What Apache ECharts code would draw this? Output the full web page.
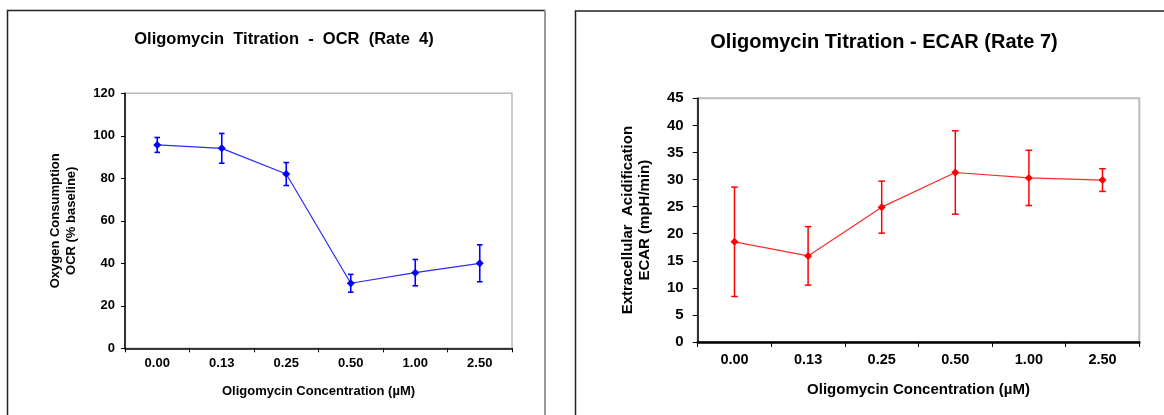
<!DOCTYPE html>
<html>
<head>
<meta charset="utf-8">
<script src="https://cdn.jsdelivr.net/npm/echarts@6/dist/echarts.min.js"></script>
<style>
html,body{margin:0;padding:0;background:#fff;}
#c{width:1164px;height:415px;}
</style>
</head>
<body>
<div id="c"></div>
<script>
const categories = ['0.00', '0.13', '0.25', '0.50', '1.00', '2.50'];
const ocrMean = [95.7, 94.1, 82.0, 30.6, 35.6, 40.0];
const ocrErr = [3.5, 7.0, 5.4, 4.2, 6.2, 8.7];
const ecarMean = [18.5, 15.9, 24.9, 31.3, 30.3, 29.9];
const ecarErr = [10.1, 5.4, 4.8, 7.7, 5.1, 2.1];
const ocrTicks = [0, 20, 40, 60, 80, 100, 120];
const ecarTicks = [0, 5, 10, 15, 20, 25, 30, 35, 40, 45];

const FONT = '"Liberation Sans", Arial, sans-serif';

function errData(mean, err) {
  return mean.map((m, i) => [i, m - err[i], m + err[i]]);
}
function errRender(color, cap, lw) {
  return function (params, api) {
    const i = api.value(0);
    const lo = api.coord([i, api.value(1)]);
    const hi = api.coord([i, api.value(2)]);
    const st = { stroke: color, lineWidth: lw };
    return {
      type: 'group',
      children: [
        { type: 'line', shape: { x1: hi[0], y1: hi[1], x2: lo[0], y2: lo[1] }, style: st },
        { type: 'line', shape: { x1: hi[0] - cap, y1: hi[1], x2: hi[0] + cap, y2: hi[1] }, style: st },
        { type: 'line', shape: { x1: lo[0] - cap, y1: lo[1], x2: lo[0] + cap, y2: lo[1] }, style: st }
      ]
    };
  };
}

const chart = echarts.init(document.getElementById('c'), null, { renderer: 'canvas' });
chart.setOption({
  backgroundColor: '#fff',
  animation: false,
  textStyle: { fontFamily: FONT },
  title: [
    { text: 'Oligomycin  Titration  -  OCR  (Rate  4)', left: 279, top: 26, textAlign: 'center',
      textStyle: { fontFamily: FONT, fontWeight: 'bold', fontSize: 16.5, color: '#000' } },
    { text: 'Oligomycin Titration - ECAR (Rate 7)', left: 879, top: 27, textAlign: 'center',
      textStyle: { fontFamily: FONT, fontWeight: 'bold', fontSize: 20, color: '#000' } }
  ],
  graphic: [
    { type: 'polyline', silent: true, shape: { points: [[7.5, 420], [7.5, 10.5], [545, 10.5]] }, style: { stroke: '#222', lineWidth: 1.5, fill: null } },
    { type: 'line', silent: true, shape: { x1: 545, y1: 10.5, x2: 545, y2: 420 }, style: { stroke: '#999', lineWidth: 2 } },
    { type: 'polyline', silent: true, shape: { points: [[575.5, 420], [575.5, 11], [1170, 11]] }, style: { stroke: '#222', lineWidth: 1.5, fill: null } }
  ],
  grid: [
    { left: 125, top: 93.3, width: 387, height: 255, show: true, borderColor: '#bbb', borderWidth: 1.5, backgroundColor: 'transparent' },
    { left: 697.7, top: 98.3, width: 441.6, height: 243.7, show: true, borderColor: '#bbb', borderWidth: 2, backgroundColor: 'transparent' }
  ],
  xAxis: [
    { gridIndex: 0, type: 'category', data: categories, boundaryGap: true,
      name: 'Oligomycin Concentration (µM)', nameLocation: 'middle', nameGap: 37,
      nameTextStyle: { fontFamily: FONT, fontWeight: 'bold', fontSize: 13, color: '#000' },
      axisLine: { lineStyle: { color: '#000', width: 1.5 } },
      axisTick: { show: true, length: 4, alignWithLabel: false, lineStyle: { color: '#000', width: 1 } },
      axisLabel: { margin: 9, fontFamily: FONT, fontWeight: 'bold', fontSize: 13, color: '#000' },
      splitLine: { show: false } },
    { gridIndex: 1, type: 'category', data: categories, boundaryGap: true,
      name: 'Oligomycin Concentration (µM)', nameLocation: 'middle', nameGap: 40,
      nameTextStyle: { fontFamily: FONT, fontWeight: 'bold', fontSize: 15, color: '#000' },
      axisLine: { lineStyle: { color: '#000', width: 2.5 } },
      axisTick: { show: true, length: 5, alignWithLabel: false, lineStyle: { color: '#000', width: 1 } },
      axisLabel: { margin: 10, fontFamily: FONT, fontWeight: 'bold', fontSize: 14.5, color: '#000' },
      splitLine: { show: false } }
  ],
  yAxis: [
    { gridIndex: 0, type: 'value', min: ocrTicks[0], max: ocrTicks[ocrTicks.length - 1], interval: 20,
      name: 'Oxygen Consumption\nOCR (% baseline)', nameLocation: 'middle', nameGap: 46,
      nameTextStyle: { fontFamily: FONT, fontWeight: 'bold', fontSize: 13, lineHeight: 16, color: '#000' },
      axisLine: { show: true, lineStyle: { color: '#000', width: 1.5 } },
      axisTick: { show: true, length: 4, lineStyle: { color: '#000', width: 1 } },
      axisLabel: { margin: 10, fontFamily: FONT, fontWeight: 'bold', fontSize: 13, color: '#000' },
      splitLine: { show: false } },
    { gridIndex: 1, type: 'value', min: ecarTicks[0], max: ecarTicks[ecarTicks.length - 1], interval: 5,
      name: 'Extracellular  Acidification\nECAR (mpH/min)', nameLocation: 'middle', nameGap: 44,
      nameTextStyle: { fontFamily: FONT, fontWeight: 'bold', fontSize: 15, lineHeight: 17, color: '#000' },
      axisLine: { show: true, lineStyle: { color: '#000', width: 1.5 } },
      axisTick: { show: true, length: 5, lineStyle: { color: '#000', width: 1 } },
      axisLabel: { margin: 14, fontFamily: FONT, fontWeight: 'bold', fontSize: 15, color: '#000' },
      splitLine: { show: false } }
  ],
  series: [
    { type: 'custom', xAxisIndex: 0, yAxisIndex: 0, data: errData(ocrMean, ocrErr),
      renderItem: errRender('#0000ff', 2.8, 1.6), z: 2, silent: true },
    { type: 'line', xAxisIndex: 0, yAxisIndex: 0, data: ocrMean, symbol: 'diamond', symbolSize: 8,
      itemStyle: { color: '#0000ff' }, lineStyle: { color: '#2a2aff', width: 1.2 }, z: 3 },
    { type: 'custom', xAxisIndex: 1, yAxisIndex: 1, data: errData(ecarMean, ecarErr),
      renderItem: errRender('#ff0000', 3.3, 1.5), z: 2, silent: true },
    { type: 'line', xAxisIndex: 1, yAxisIndex: 1, data: ecarMean, symbol: 'diamond', symbolSize: 8,
      itemStyle: { color: '#ff0000' }, lineStyle: { color: '#ff2a2a', width: 1.2 }, z: 3 }
  ]
});
</script>
</body>
</html>
